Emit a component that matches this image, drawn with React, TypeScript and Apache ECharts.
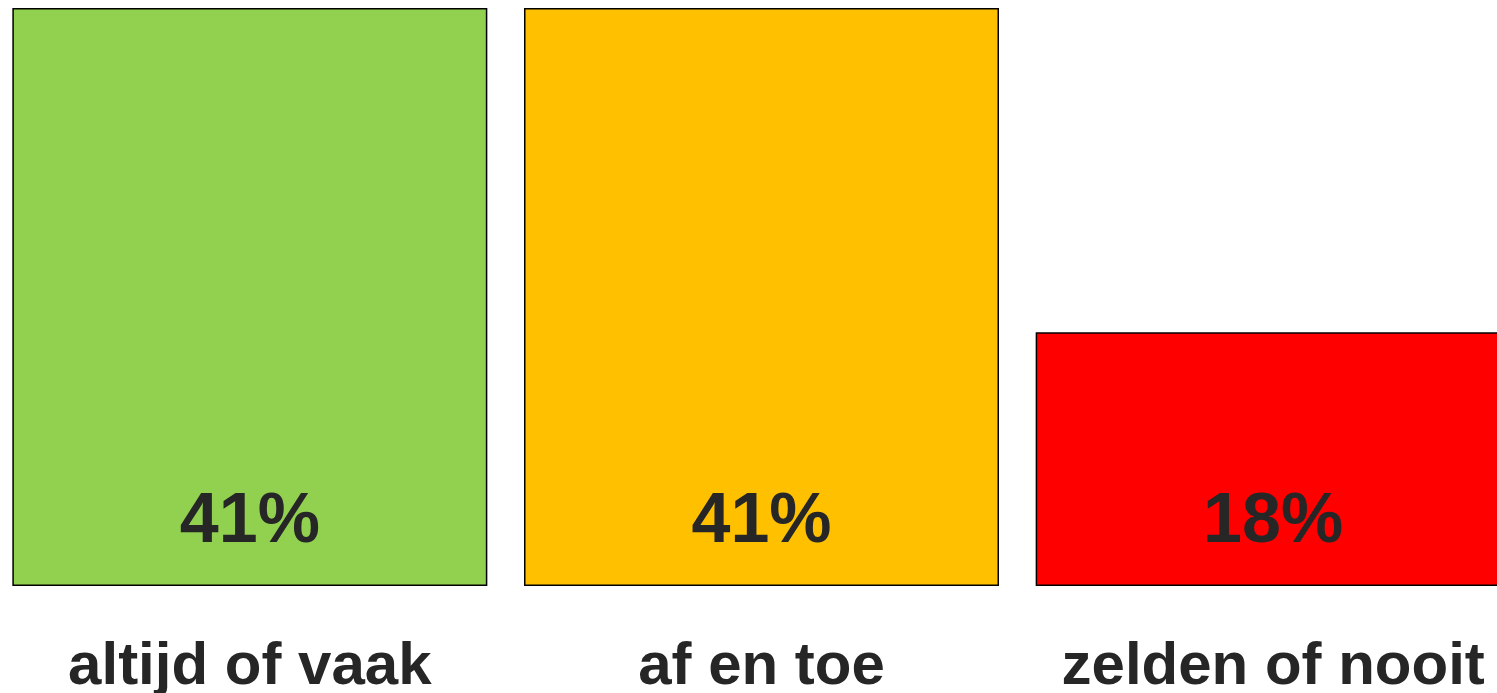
import React, { useEffect, useRef } from "react";
import * as echarts from "echarts";

const categories = ["altijd of vaak", "af en toe", "zelden of nooit"];
const values = [41, 41, 18];
const barColors = ["#92D050", "#FFC000", "#FF0000"];

export default function App() {
  const ref = useRef<HTMLDivElement>(null);
  useEffect(() => {
    if (!ref.current) return;
    const chart = echarts.init(ref.current, null, { renderer: "svg" });
    chart.setOption({
      animation: false,
      grid: { left: 0, right: 0, top: 8, bottom: 105, containLabel: false },
      xAxis: {
        type: "category",
        data: categories,
        axisLine: { show: false },
        axisTick: { show: false },
        axisLabel: {
          margin: 47,
          fontSize: 60,
          fontWeight: "bold",
          fontFamily: "Liberation Sans, Arial, sans-serif",
          color: "#262626",
          interval: 0,
        },
      },
      yAxis: {
        type: "value",
        min: 0,
        max: 41,
        show: false,
        splitLine: { show: false },
      },
      series: [
        {
          type: "bar",
          barWidth: 475,
          data: values.map((v, i) => ({
            value: v,
            itemStyle: { color: barColors[i], borderColor: "#000000", borderWidth: 1.5 },
          })),
          label: {
            show: true,
            position: "insideBottom",
            distance: 33,
            formatter: "{c}%",
            fontSize: 70,
            fontWeight: "bold",
            fontFamily: "Liberation Sans, Arial, sans-serif",
            color: "#262626",
          },
        },
      ],
    });
    return () => chart.dispose();
  }, []);
  return (
    <div style={{ position: "fixed", left: 0, top: 0, width: 1497, height: 693, overflow: "hidden" }}>
      <div
        ref={ref}
        style={{ position: "absolute", left: -6, top: 0, width: 1535, height: 693 }}
      />
    </div>
  );
}
